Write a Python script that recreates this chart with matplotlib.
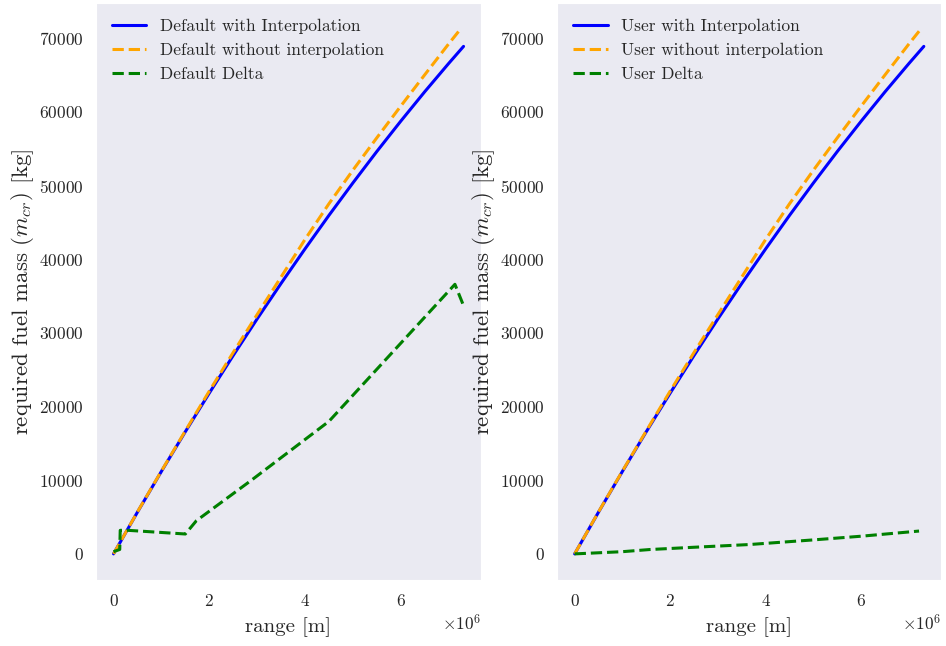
import matplotlib
matplotlib.use("Agg")
import matplotlib.pyplot as plt
import numpy as np
import seaborn as sns

# fuel mass over range, default vs user aircraft data (range in m, mass in kg)
range_interp = np.array([0, 0.5, 1.0, 1.5, 2.0, 2.5, 3.0, 3.5, 4.0, 4.5,
                         5.0, 5.5, 6.0, 6.5, 7.0, 7.31]) * 1e6
default_interp = [0, 5670, 11200, 16590, 21830, 26940, 31910, 36730, 41420,
                  45970, 50370, 54640, 58760, 62750, 66590, 68900]

range_raw = np.array([0, 0.5, 1.0, 1.5, 2.0, 2.5, 3.0, 3.5, 4.0, 4.5,
                      5.0, 5.5, 6.0, 6.5, 7.0, 7.24]) * 1e6
default_no_interp = [0, 5700, 11250, 16700, 22100, 27350, 32500, 37600, 42700,
                     47550, 52100, 56500, 60800, 65050, 69250, 71200]

delta_range = np.array([0, 0.13, 0.14, 0.3, 1.5, 1.73, 2.9, 4.5, 7.13, 7.31]) * 1e6
default_delta = [300, 600, 3200, 3200, 2700, 4500, 10100, 18000, 36600, 33700]

user_interp = [0, 5670, 11200, 16590, 21830, 26940, 31910, 36730, 41420,
               45970, 50370, 54640, 58760, 62750, 66590, 68900]
user_no_interp = [0, 5700, 11250, 16700, 22100, 27350, 32500, 37600, 42700,
                  47550, 52100, 56500, 60800, 65050, 69250, 71200]

user_delta_range = np.array([0, 1.0, 1.57, 2.5, 3.66, 5.0, 6.0, 7.21]) * 1e6
user_delta = [0, 300, 590, 900, 1270, 1900, 2400, 3100]

sns.set_style("dark")
plt.rcParams["font.family"] = "serif"
plt.rcParams["font.serif"] = ["cmr10"]
plt.rcParams["mathtext.fontset"] = "cm"
plt.rcParams["axes.formatter.use_mathtext"] = True
plt.rcParams["axes.unicode_minus"] = False


def draw(ax, name, y1, y2, r3, y3):
    ax.plot(range_interp, y1, color="blue", lw=2.2, label=f"{name} with Interpolation")
    ax.plot(range_raw, y2, color="orange", lw=2.2, ls="--",
            label=f"{name} without interpolation")
    ax.plot(r3, y3, color="green", lw=2.2, ls="--", label=f"{name} Delta")
    ax.set_xlabel("range [m]", fontsize=15, labelpad=6)
    ax.set_ylabel(r"required fuel mass $(m_{cr})$ [kg]", fontsize=16.5, labelpad=2)
    ax.tick_params(axis="x", labelsize=12.5, pad=6)
    ax.tick_params(axis="y", labelsize=12.5, pad=5.5)
    ax.xaxis.get_offset_text().set_fontsize(12.5)
    ax.legend(loc="upper left", fontsize=12.5, frameon=False)


fig = plt.figure(figsize=(9.46, 6.46), dpi=100)
ax1 = fig.add_axes([0.1015, 0.102, 0.407, 0.893])
ax2 = fig.add_axes([0.589, 0.102, 0.406, 0.893])

draw(ax1, "Default", default_interp, default_no_interp, delta_range, default_delta)
draw(ax2, "User", user_interp, user_no_interp, user_delta_range, user_delta)

fig.savefig("out.png", dpi=100)
